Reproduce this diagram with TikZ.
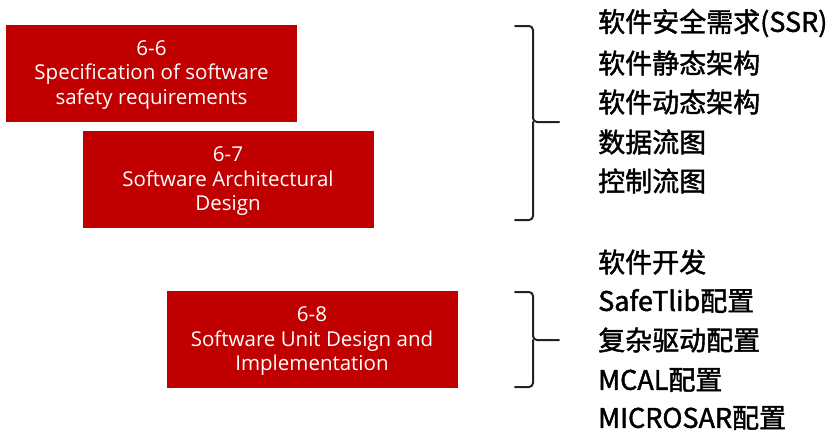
\documentclass[tikz,border=0pt]{standalone}
\usepackage{fontspec}
\setmainfont{Open Sans}
\newfontfamily\cjk{Noto Sans CJK SC}[FakeBold=1.6]
\definecolor{boxred}{HTML}{C00000}
\definecolor{brace}{HTML}{222222}
\begin{document}
\begin{tikzpicture}[x=1pt,y=-1pt,
  redbox/.style={fill=boxred,draw=none,text=white,inner sep=0pt,minimum width=291pt,minimum height=97pt,align=center,font=\fontsize{20.5}{24.5}\selectfont},
  boxtext/.style={text=white,inner sep=0pt,align=center,font=\fontsize{20.5}{24.5}\selectfont},
  item/.style={anchor=west,inner sep=0pt,text=black,font=\cjk\fontsize{27}{30}\selectfont},
  bracepath/.style={draw=brace,line width=2pt,line cap=round,line join=round}]
\useasboundingbox (0,0) rectangle (830,432);
\node[redbox] (b1) at (151.5,73) {};
\node[boxtext] (l1) at ([yshift=-2pt]b1.center) {6-6\\Specification of software\\safety requirements};
\node[redbox] (b2) at (228,179.5) {};
\node[boxtext] (l2) at ([yshift=-2pt]b2.center) {6-7\\Software Architectural\\Design};
\node[redbox] (b3) at (312,339.5) {};
\node[boxtext] (l3) at ([yshift=-2pt]b3.center) {6-8\\Software Unit Design and\\Implementation};
% brace 1
\draw[bracepath,rounded corners=4pt] (515,26) -- (533,26) -- (533,122) -- (559,122);
\draw[bracepath,rounded corners=4pt] (515,220) -- (533,220) -- (533,122);
% brace 2
\draw[bracepath,rounded corners=4pt] (515,292) -- (533,292) -- (533,340) -- (559,340);
\draw[bracepath,rounded corners=4pt] (515,387) -- (533,387) -- (533,340);
\node[item] (t1) at (598,23) {软件安全需求(SSR)};
\node[item] (t2) at (598,63) {软件静态架构};
\node[item] (t3) at (598,102) {软件动态架构};
\node[item] (t4) at (598,142) {数据流图};
\node[item] (t5) at (598,181) {控制流图};
\node[item] (t6) at (598,262) {软件开发};
\node[item] (t7) at (598,301) {SafeTlib配置};
\node[item] (t8) at (598,340) {复杂驱动配置};
\node[item] (t9) at (598,380) {MCAL配置};
\node[item] (t10) at (598,418) {MICROSAR配置};
\end{tikzpicture}
\end{document}
